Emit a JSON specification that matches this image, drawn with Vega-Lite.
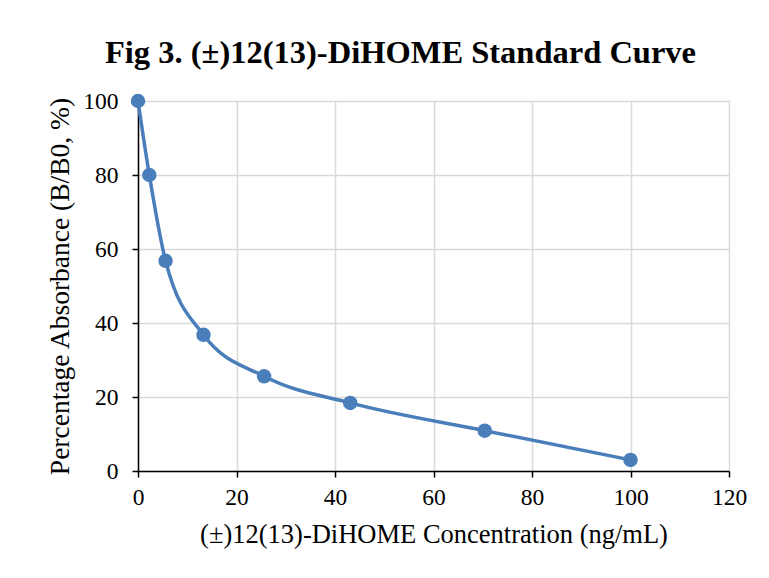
{
  "$schema": "https://vega.github.io/schema/vega-lite/v6.json",
  "width": 591,
  "height": 370,
  "autosize": {"type": "none"},
  "padding": {"left": 138, "top": 101, "right": 40, "bottom": 107},
  "background": "white",
  "title": {
    "text": "Fig 3. (±)12(13)-DiHOME Standard Curve",
    "font": "Liberation Serif",
    "fontSize": 32.5,
    "fontWeight": "bold",
    "color": "#000000",
    "anchor": "middle",
    "dx": -33,
    "offset": 20
  },
  "config": {
    "view": {"stroke": null},
    "axis": {
      "labelFont": "Liberation Serif",
      "titleFont": "Liberation Serif",
      "labelFontSize": 23.5,
      "titleFontSize": 26.5,
      "titleFontWeight": "normal",
      "labelColor": "#000000",
      "titleColor": "#000000",
      "gridColor": "#d9d9d9",
      "gridWidth": 1.5,
      "domainColor": "#000000",
      "domainWidth": 1.5,
      "tickColor": "#000000",
      "tickWidth": 1.5,
      "tickSize": 6,
      "labelFlush": false
    }
  },
  "data": {
    "values": [
      {"conc": 0, "pct": 100},
      {"conc": 2.3, "pct": 80},
      {"conc": 5.6, "pct": 56.8},
      {"conc": 13.3, "pct": 36.8},
      {"conc": 25.6, "pct": 25.6},
      {"conc": 43.1, "pct": 18.4},
      {"conc": 70.4, "pct": 10.9},
      {"conc": 100, "pct": 3.0}
    ]
  },
  "encoding": {
    "x": {
      "field": "conc",
      "type": "quantitative",
      "scale": {"domain": [0, 120], "nice": false},
      "axis": {"values": [0, 20, 40, 60, 80, 100, 120], "title": "(±)12(13)-DiHOME Concentration (ng/mL)", "labelPadding": 8, "titlePadding": 13}
    },
    "y": {
      "field": "pct",
      "type": "quantitative",
      "scale": {"domain": [0, 100], "nice": false},
      "axis": {"values": [0, 20, 40, 60, 80, 100], "title": "Percentage Absorbance (B/B0, %)", "titleFontSize": 27.5, "labelPadding": 14, "titlePadding": 8}
    }
  },
  "layer": [
    {"mark": {"type": "line", "interpolate": "monotone", "color": "#4a7ebb", "strokeWidth": 3.5}},
    {"mark": {"type": "point", "filled": true, "shape": "circle", "size": 210, "color": "#4a7ebb", "opacity": 1}}
  ]
}
